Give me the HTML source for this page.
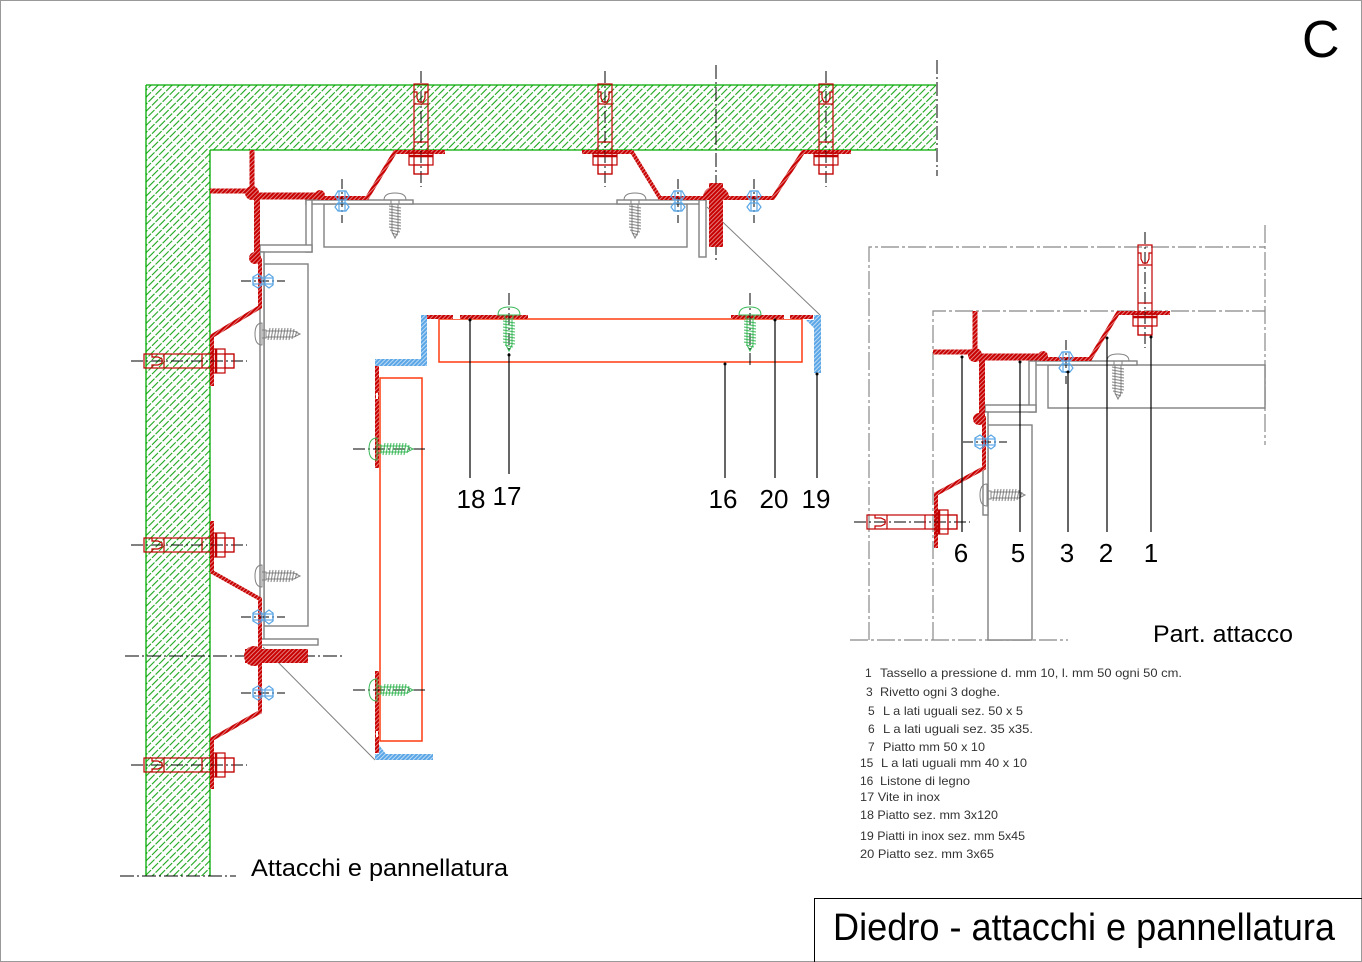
<!DOCTYPE html>
<html><head><meta charset="utf-8"><style>
html,body{margin:0;padding:0;background:#fff;}
svg{display:block;}
text{font-family:"Liberation Sans",Arial,sans-serif;}
</style></head><body>
<svg width="1362" height="962" viewBox="0 0 1362 962" xmlns="http://www.w3.org/2000/svg">
<defs>
<pattern id="gh" patternUnits="userSpaceOnUse" width="5" height="10" patternTransform="rotate(45)">
<line x1="2" y1="0" x2="2" y2="10" stroke="#1ba51b" stroke-width="1.1" stroke-dasharray="7 1.5"/>
</pattern>
<pattern id="rh" patternUnits="userSpaceOnUse" width="3" height="3" patternTransform="rotate(45)">
<rect width="3" height="3" fill="#c80000"/><line x1="1.5" y1="0" x2="1.5" y2="3" stroke="#fff" stroke-width="0.5"/>
</pattern>
<pattern id="bh" patternUnits="userSpaceOnUse" width="3" height="3" patternTransform="rotate(45)">
<rect width="3" height="3" fill="#5aa6e6"/><line x1="1.5" y1="0" x2="1.5" y2="3" stroke="#fff" stroke-width="0.6"/>
</pattern>
<g id="bolt">
<line x1="0" y1="-79" x2="0" y2="37" stroke="#000" stroke-width="1" stroke-dasharray="12 3 2 3"/>
<g fill="none" stroke="#c00000" stroke-width="1.2">
<rect x="-7" y="-66" width="14" height="90"/>
<path d="M-7,-58 L-4,-58 L-4,-52 L-2,-48 L2,-48 L4,-52 L4,-58 L7,-58"/>
<line x1="-7" y1="-46" x2="7" y2="-46"/>
<line x1="-7" y1="-8" x2="7" y2="-8"/>
<rect x="-12" y="3" width="24" height="12"/>
<line x1="-12" y1="6" x2="12" y2="6" stroke-width="2.5"/>
<rect x="-7" y="15" width="14" height="9"/>
</g>
</g>
<g id="riv">
<line x1="0" y1="-20" x2="0" y2="24" stroke="#000" stroke-width="1" stroke-dasharray="10 3 2 3"/>
<g fill="none" stroke="#5aa6e6" stroke-width="1.2">
<path d="M-7,-3 L-4,-8 L4,-8 L7,-3 L4,1 L-4,1 Z"/>
<rect x="-3" y="-8" width="6" height="20"/>
<path d="M-7,8 L-4,4 L4,4 L7,8 L4,12 L-4,12 Z"/>
</g>
</g>
<g id="scrg" fill="none" stroke="#808080" stroke-width="1">
<path d="M-11,0 Q-11,-7 0,-7 Q11,-7 11,0 Z"/>
<rect x="-4" y="0" width="8" height="4"/>
<path d="M-3,4 V32 L0,38 L3,32 V4"/>
<path d="M-6,6 L6,8 M-6,9 L6,11 M-6,12 L6,14 M-6,15 L6,17 M-6,18 L6,20 M-6,21 L6,23 M-6,24 L6,26 M-6,27 L6,29 M-5,30 L5,32 M-3,33 L3,35"/>
</g>
<g id="scrv" fill="none" stroke="#3cb95a" stroke-width="1">
<path d="M-11,0 Q-11,-8 0,-8 Q11,-8 11,0 Z"/>
<rect x="-4" y="0" width="8" height="4"/>
<path d="M-3,4 V30 L0,36 L3,30 V4"/>
<path d="M-6,6 L6,8 M-6,9 L6,11 M-6,12 L6,14 M-6,15 L6,17 M-6,18 L6,20 M-6,21 L6,23 M-6,24 L6,26 M-6,27 L6,29 M-4,30 L4,32"/>
</g>
</defs>

<!-- frame -->
<rect x="0.5" y="0.5" width="1361" height="961" fill="none" stroke="#999" stroke-width="1"/>
<text x="1302" y="57" font-size="52" fill="#000">C</text>

<!-- wall -->
<path d="M146,85 H936 V150 H210 V876 H146 Z" fill="url(#gh)"/>
<g stroke="#00aa00" stroke-width="1.3" fill="none">
<line x1="146" y1="85" x2="146" y2="876"/>
<line x1="146" y1="85" x2="936" y2="85"/>
<line x1="210" y1="150" x2="210" y2="876"/>
<line x1="210" y1="150" x2="936" y2="150"/>
</g>
<line x1="937" y1="60" x2="937" y2="176" stroke="#000" stroke-width="1" stroke-dasharray="14 3 2 3"/>
<line x1="120" y1="876" x2="236" y2="876" stroke="#000" stroke-width="1" stroke-dasharray="14 3 2 3"/>
<line x1="716" y1="65" x2="716" y2="260" stroke="#000" stroke-width="1" stroke-dasharray="14 3 2 3"/>
<line x1="125" y1="656" x2="345" y2="656" stroke="#000" stroke-width="1" stroke-dasharray="14 3 2 3"/>

<!-- gray profiles main -->
<g fill="#fff" stroke="#808080" stroke-width="1.4">
<rect x="324" y="204" width="363" height="43"/>
<rect x="306" y="200" width="107" height="4"/>
<rect x="306" y="200" width="6" height="52"/>
<rect x="260" y="245" width="52" height="7"/>
<rect x="617" y="200" width="89" height="4"/>
<rect x="699" y="200" width="7" height="57"/>
<rect x="264" y="264" width="44" height="362"/>
<rect x="260" y="252" width="4" height="388"/>
<rect x="260" y="639" width="58" height="6"/>
</g>
<!-- leader diagonals -->
<g stroke="#808080" stroke-width="1" fill="none">
<line x1="707" y1="207" x2="820" y2="315"/>
<line x1="263" y1="647" x2="375" y2="760"/>
</g>

<!-- screws gray -->
<use href="#scrg" transform="translate(395,200)"/>
<use href="#scrg" transform="translate(635,200)"/>
<use href="#scrg" transform="translate(262,334) rotate(-90)"/>
<use href="#scrg" transform="translate(262,576) rotate(-90)"/>

<!-- red brackets main -->
<g fill="none" stroke="url(#rh)">
<path d="M210,191 H253" stroke-width="5"/>
<path d="M252,150 V195" stroke-width="5"/>
<path d="M252,196 H320" stroke-width="7"/>
<path d="M320,198 H367 L395,152 H445" stroke-width="4"/>
<path d="M257,196 V262" stroke-width="6"/>
<path d="M260,258 V307 L212,336 V386" stroke-width="4"/>
<path d="M212,521 V572 L260,599 V712 L212,739 V789" stroke-width="4"/>
<path d="M582,152 H632 L660,198 H773 L803,152 H851" stroke-width="4"/>
</g>
<g fill="url(#rh)">
<rect x="709" y="183" width="14" height="64"/>
<rect x="245" y="649" width="63" height="14"/>
<circle cx="252" cy="193" r="7"/>
<circle cx="320" cy="195" r="5"/>
<circle cx="255" cy="258" r="6"/>
<path d="M703,197 A13,11 0 0 1 729,197 Z"/>
<circle cx="254" cy="656" r="10"/>
</g>

<!-- bolts -->
<use href="#bolt" transform="translate(421,150)"/>
<use href="#bolt" transform="translate(605,150)"/>
<use href="#bolt" transform="translate(826,150)"/>
<use href="#bolt" transform="translate(210,361) rotate(-90)"/>
<use href="#bolt" transform="translate(210,545) rotate(-90)"/>
<use href="#bolt" transform="translate(210,765) rotate(-90)"/>

<!-- rivets -->
<use href="#riv" transform="translate(342,199)"/>
<use href="#riv" transform="translate(678,199)"/>
<use href="#riv" transform="translate(754,199)"/>
<use href="#riv" transform="translate(261,281) rotate(-90)"/>
<use href="#riv" transform="translate(261,617) rotate(-90)"/>
<use href="#riv" transform="translate(261,693) rotate(-90)"/>

<!-- center panel detail -->
<g fill="none" stroke="#ff3b10" stroke-width="1.5">
<rect x="439" y="319" width="363" height="43"/>
<rect x="380" y="378" width="42" height="363"/>
</g>
<g fill="url(#bh)">
<rect x="421" y="315" width="6" height="51"/>
<rect x="375" y="359" width="52" height="7"/>
<rect x="814" y="315" width="7" height="58"/>
<rect x="375" y="754" width="58" height="6"/>
<path d="M379,754 L379,745 L386,754 Z"/>
<path d="M814,320 L806,320 L814,328 Z"/>
</g>
<g fill="url(#rh)">
<rect x="427" y="315" width="101" height="4"/>
<rect x="731" y="315" width="82" height="4"/>
<rect x="375" y="366" width="4" height="102"/>
<rect x="375" y="671" width="4" height="82"/>
</g>
<g fill="#fff">
<rect x="453" y="315" width="7" height="4"/>
<rect x="784" y="315" width="6" height="4"/>
<rect x="376" y="393" width="2" height="6"/>
<rect x="376" y="731" width="2" height="6"/>
</g>
<g stroke="#000" stroke-width="1" stroke-dasharray="12 3 2 3">
<line x1="509" y1="293" x2="509" y2="356"/>
<line x1="750" y1="293" x2="750" y2="366"/>
<line x1="353" y1="449" x2="427" y2="449"/>
<line x1="353" y1="690" x2="427" y2="690"/>
</g>
<use href="#scrv" transform="translate(509,315)"/>
<use href="#scrv" transform="translate(750,315)"/>
<use href="#scrv" transform="translate(377,449) rotate(-90)"/>
<use href="#scrv" transform="translate(377,690) rotate(-90)"/>

<!-- leaders center -->
<g stroke="#000" stroke-width="1.2">
<line x1="470" y1="319" x2="470" y2="478"/>
<line x1="509" y1="355" x2="509" y2="474"/>
<line x1="725" y1="363" x2="725" y2="478"/>
<line x1="775" y1="319" x2="775" y2="478"/>
<line x1="817" y1="373" x2="817" y2="478"/>
</g>
<g fill="#000">
<circle cx="470" cy="320" r="1.5"/><circle cx="509" cy="355" r="1.5"/><circle cx="725" cy="364" r="1.5"/><circle cx="775" cy="320" r="1.5"/><circle cx="817" cy="374" r="1.5"/>
</g>
<g font-size="26" fill="#000" text-anchor="middle">
<text x="471" y="508">18</text>
<text x="507" y="505">17</text>
<text x="723" y="508">16</text>
<text x="774" y="508">20</text>
<text x="816" y="508">19</text>
</g>

<!-- right detail -->
<g fill="none" stroke="#888" stroke-width="1.2" stroke-dasharray="18 3 3 3">
<path d="M869,640 V247 H1265"/>
<path d="M933,640 V311 H1265"/>
<line x1="1265" y1="225" x2="1265" y2="445"/>
<line x1="850" y1="640" x2="1068" y2="640"/>
</g>
<g fill="#fff" stroke="#808080" stroke-width="1.4">
<rect x="1048" y="365" width="217" height="43"/>
<rect x="1033" y="361" width="104" height="4"/>
<rect x="1029" y="361" width="7" height="51"/>
<rect x="985" y="405" width="51" height="7"/>
<rect x="988" y="425" width="44" height="215"/>
<rect x="983" y="412" width="5" height="103"/>
</g>
<use href="#scrg" transform="translate(1118,361)"/>
<use href="#scrg" transform="translate(987,495) rotate(-90)"/>
<g fill="none" stroke="url(#rh)">
<path d="M933,352 H976" stroke-width="5"/>
<path d="M975,311 V356" stroke-width="5"/>
<path d="M977,357 H1040" stroke-width="7"/>
<path d="M1040,359 H1090 L1118,313 H1170" stroke-width="4"/>
<path d="M982,356 V420" stroke-width="6"/>
<path d="M984,416 V468 L936,494 V548" stroke-width="4"/>
</g>
<g fill="url(#rh)">
<circle cx="975" cy="355" r="7"/>
<circle cx="1043" cy="356" r="5"/>
<circle cx="979" cy="419" r="6"/>
</g>
<use href="#bolt" transform="translate(1145,311)"/>
<use href="#bolt" transform="translate(933,522) rotate(-90)"/>
<use href="#riv" transform="translate(1066,360)"/>
<use href="#riv" transform="translate(983,442) rotate(-90)"/>
<g stroke="#000" stroke-width="1.2">
<line x1="962" y1="357" x2="962" y2="532"/>
<line x1="1020" y1="362" x2="1020" y2="532"/>
<line x1="1068" y1="372" x2="1068" y2="532"/>
<line x1="1107" y1="337" x2="1107" y2="532"/>
<line x1="1151" y1="336" x2="1151" y2="532"/>
</g>
<g fill="#000">
<circle cx="962" cy="357" r="1.5"/><circle cx="1020" cy="362" r="1.5"/><circle cx="1068" cy="372" r="1.5"/><circle cx="1107" cy="338" r="1.5"/><circle cx="1151" cy="337" r="1.5"/>
</g>
<g font-size="26" fill="#000" text-anchor="middle">
<text x="961" y="562">6</text>
<text x="1018" y="562">5</text>
<text x="1067" y="562">3</text>
<text x="1106" y="562">2</text>
<text x="1151" y="562">1</text>
</g>
<text x="1153" y="642" font-size="24" fill="#000" textLength="140" lengthAdjust="spacingAndGlyphs">Part. attacco</text>
<text x="251" y="876" font-size="24" fill="#000" textLength="257" lengthAdjust="spacingAndGlyphs">Attacchi e pannellatura</text>

<!-- legend -->
<g font-size="12" fill="#333">
<text x="865" y="677">1</text><text x="880" y="677" textLength="302" lengthAdjust="spacingAndGlyphs">Tassello a pressione d. mm 10, l. mm 50 ogni 50 cm.</text>
<text x="866" y="696">3</text><text x="880" y="696" textLength="120" lengthAdjust="spacingAndGlyphs">Rivetto ogni 3 doghe.</text>
<text x="868" y="715">5</text><text x="883" y="715" textLength="140" lengthAdjust="spacingAndGlyphs">L a lati uguali sez. 50 x 5</text>
<text x="868" y="733">6</text><text x="883" y="733" textLength="150" lengthAdjust="spacingAndGlyphs">L a lati uguali sez. 35 x35.</text>
<text x="868" y="751">7</text><text x="883" y="751" textLength="102" lengthAdjust="spacingAndGlyphs">Piatto mm 50 x 10</text>
<text x="860" y="767">15</text><text x="881" y="767" textLength="146" lengthAdjust="spacingAndGlyphs">L a lati uguali mm 40 x 10</text>
<text x="860" y="785">16</text><text x="880" y="785" textLength="90" lengthAdjust="spacingAndGlyphs">Listone di legno</text>
<text x="860" y="801" textLength="80" lengthAdjust="spacingAndGlyphs">17 Vite in inox</text>
<text x="860" y="819" textLength="138" lengthAdjust="spacingAndGlyphs">18 Piatto sez. mm 3x120</text>
<text x="860" y="840" textLength="165" lengthAdjust="spacingAndGlyphs">19 Piatti in inox sez. mm 5x45</text>
<text x="860" y="858" textLength="134" lengthAdjust="spacingAndGlyphs">20 Piatto sez. mm 3x65</text>
</g>

<!-- title box -->
<path d="M814.5,962 V898.5 H1362" fill="none" stroke="#000" stroke-width="1"/>
<text x="833" y="940" font-size="38" fill="#000" textLength="502" lengthAdjust="spacingAndGlyphs">Diedro - attacchi e pannellatura</text>
</svg>
</body></html>
